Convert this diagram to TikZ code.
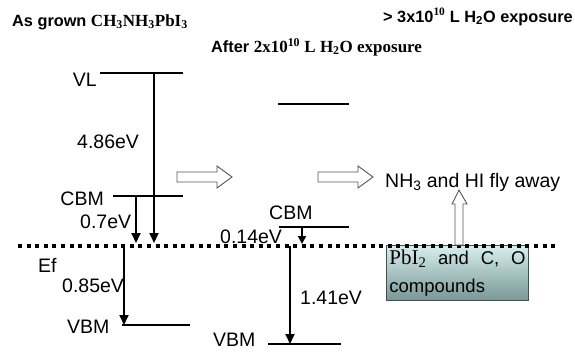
\documentclass[tikz,border=0pt]{standalone}
\usepackage{fontspec}
\setmainfont{Liberation Sans}
\newfontfamily\timesfont{Liberation Serif}
\usetikzlibrary{arrows.meta,positioning,calc}
\definecolor{boxtop}{RGB}{214, 238, 238}
\definecolor{boxbottom}{RGB}{122, 150, 150}
\definecolor{boxedge}{RGB}{70, 80, 80}
\definecolor{hollowedge}{RGB}{85, 85, 85}

\tikzset{
    level/.style={line width=2.2pt},
    gap/.style={line width=1.8pt, -{Triangle[length=10pt, width=9pt]}},
    lbl/.style={font=\fontsize{19.5}{21}\selectfont, inner sep=0pt, anchor=west},
    head/.style={font=\fontsize{16.3}{18}\selectfont\bfseries, inner sep=0pt, anchor=west},
    hollow/.style={draw=hollowedge, fill=white, line width=0.9pt, line join=miter},
}

\begin{document}
\begin{tikzpicture}[x=1pt, y=-1pt]
    \useasboundingbox (0,0) rectangle (575,351);

    % titles
    \node[head] (tgrown) at (12,22) {As grown {\timesfont\fontsize{17}{18}\selectfont CH\textsubscript{3}NH\textsubscript{3}PbI\textsubscript{3}}};
    \node[head] (tmore) at (383,17) {> 3x10\textsuperscript{\timesfont 10} L H\textsubscript{2}O exposure};
    \node[head] (tafter) at (211,47) {After {\timesfont\fontsize{17}{18}\selectfont 2x10\textsuperscript{10} L H\textsubscript{2}O exposure}};

    % Fermi level
    \coordinate (efL) at (18,246);
    \coordinate (efR) at (555,246);

    % as grown levels
    \coordinate (vlL) at (100,73);   \coordinate (vlR) at (183,73);
    \coordinate (cbmL) at (113,196); \coordinate (cbmR) at (183,196);
    \coordinate (vbmL) at (122,325); \coordinate (vbmR) at (190,325);
    \draw[level] (vlL) -- (vlR);
    \draw[level] (cbmL) -- (cbmR);
    \draw[level] (vbmL) -- (vbmR);

    % after exposure levels
    \coordinate (vlbL) at (278,104);  \coordinate (vlbR) at (349,104);
    \coordinate (cbmbL) at (279,227); \coordinate (cbmbR) at (349,227);
    \coordinate (vbmbL) at (268,344); \coordinate (vbmbR) at (341,344);
    \draw[level] (vlbL) -- (vlbR);
    \draw[level] (cbmbL) -- (cbmbR);
    \draw[level] (vbmbL) -- (vbmbR);

    % decomposition products
    \node[draw=boxedge, line width=0.8pt, top color=boxtop, bottom color=boxbottom,
          minimum width=142pt, minimum height=55pt, text width=136pt, inner sep=2pt,
          align=left, anchor=north west, font=\fontsize{18.5}{28}\selectfont]
          (pbi) at (386,245) {{\timesfont\fontsize{21}{28}\selectfont PbI\textsubscript{2}}\hfill and\hfill C,\hfill O\\compounds};

    \draw[line width=3.6pt, dash pattern=on 4pt off 4.6pt] (efL) -- (efR);

    % gaps
    \draw[gap] (154,73) -- (154,243);
    \draw[gap] (cbmL -| 136,0) -- (136,243);
    \draw[gap] (efL -| 124,0) -- (vbmL -| 124,0);
    \draw[gap, -{Triangle[length=8pt, width=8pt]}] (cbmbL -| 302,0) -- (302,244);
    \draw[gap] (efL -| 290,0) -- (vbmbL -| 290,0);

    % labels
    \node[lbl, anchor=east] (vl) at (97,80) {VL};
    \node[lbl] (evl) at (77,142) {4.86eV};
    \node[lbl, anchor=east] (cbm) at (104,199) {CBM};
    \node[lbl] (ecbm) at (80,222) {0.7eV};
    \node[lbl] (ef) at (38,265) {Ef};
    \node[lbl] (evbm) at (62,286) {0.85eV};
    \node[lbl] (vbm) at (67,327) {VBM};
    \node[lbl] (cbmb) at (269,213) {CBM};
    \node[lbl] (ecbmb) at (220,237) {0.14eV};
    \node[lbl] (evbmb) at (300,298) {1.41eV};
    \node[lbl] (vbmb) at (213,340) {VBM};
    \node[lbl] (fly) at (385,182) {NH\textsubscript{3} and HI fly away};

    % hollow arrows
    \draw[hollow] (177,172) -- (217,172) -- (217,166) -- (232,177) -- (217,188) -- (217,182) -- (177,182) -- cycle;
    \draw[hollow] (318,172) -- (358,172) -- (358,166) -- (373,177) -- (358,188) -- (358,182) -- (318,182) -- cycle;
    \draw[hollow] (455,245) -- (455,204) -- (452,204) -- (459,190) -- (467,204) -- (463,204) -- (463,245) -- cycle;
\end{tikzpicture}
\end{document}
